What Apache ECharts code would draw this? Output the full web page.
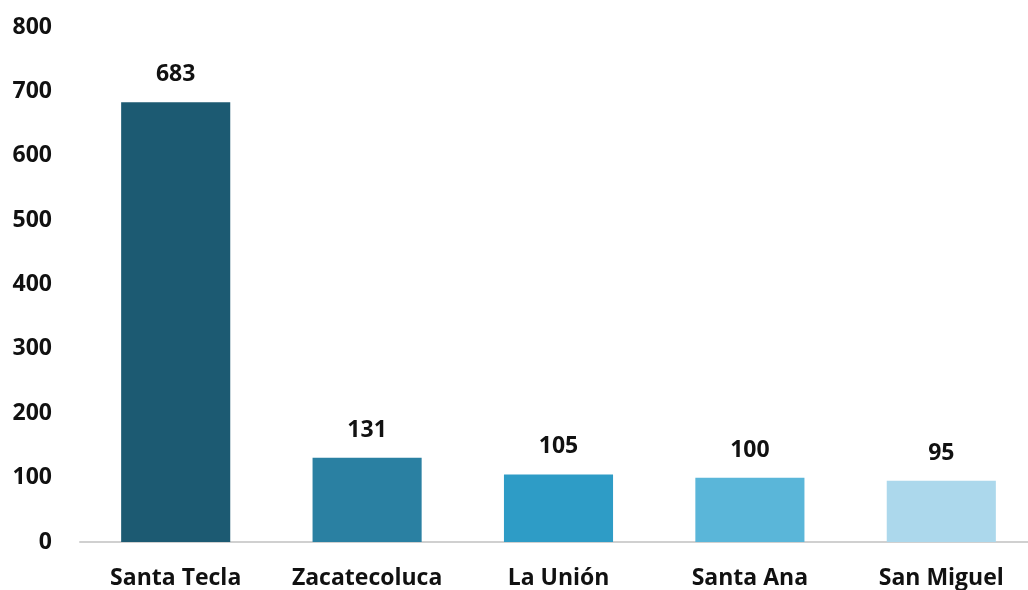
<!DOCTYPE html>
<html><head><meta charset="utf-8">
<script src="https://cdn.jsdelivr.net/npm/echarts@6/dist/echarts.min.js"></script>
<style>html,body{margin:0;padding:0;background:#fff}#c{width:1028px;height:590px}</style>
</head><body><div id="c"></div>
<script>
const categories = ['Santa Tecla', 'Zacatecoluca', 'La Unión', 'Santa Ana', 'San Miguel'];
const values = [683, 131, 105, 100, 95];
const barColors = ['#1c5a72', '#2a80a2', '#2e9cc6', '#5ab6d9', '#acd8ec'];
const yTicks = [0, 100, 200, 300, 400, 500, 600, 700, 800];

const font = 'Open Sans';
const chart = echarts.init(document.getElementById('c'));
chart.setOption({
  animation: false,
  grid: { left: 80, top: 27, width: 957, bottom: 48, containLabel: false, outerBoundsMode: 'none' },
  xAxis: {
    type: 'category', data: categories,
    axisTick: { show: false },
    axisLine: { lineStyle: { color: '#d0d0d0', width: 2 } },
    axisLabel: { interval: 0, color: '#111', fontFamily: font, fontWeight: 'bold', fontSize: 23, margin: 25 }
  },
  yAxis: {
    type: 'value', min: yTicks[0], max: yTicks[yTicks.length - 1], interval: 100,
    splitLine: { show: false }, axisLine: { show: false }, axisTick: { show: false },
    axisLabel: { color: '#111', fontFamily: font, fontWeight: 'bold', fontSize: 23, margin: 28 }
  },
  series: [{
    type: 'bar', barWidth: '57%',
    data: values.map((v, i) => ({ value: v, itemStyle: { color: barColors[i] } })),
    label: { show: true, position: 'top', distance: 16, color: '#111', fontFamily: font, fontWeight: 'bold', fontSize: 23 }
  }]
});
</script></body></html>
